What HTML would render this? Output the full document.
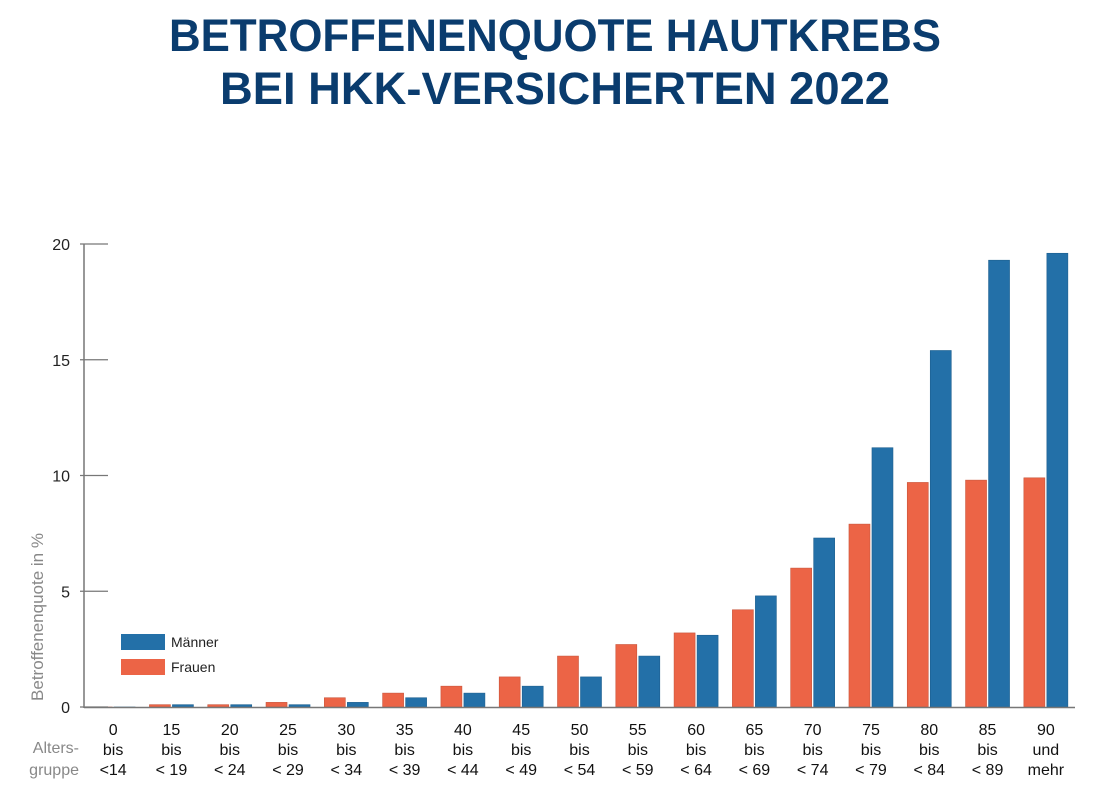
<!DOCTYPE html>
<html><head><meta charset="utf-8"><style>
body{margin:0;background:#fff;width:1110px;height:791px;overflow:hidden}
svg{display:block;font-family:"Liberation Sans",sans-serif}
</style></head><body>
<svg id="c" width="1110" height="791">
<text x="555" y="51" text-anchor="middle" font-size="45" font-weight="bold" fill="#0a3c6e" textLength="772" lengthAdjust="spacingAndGlyphs">BETROFFENENQUOTE HAUTKREBS</text>
<text x="555" y="104" text-anchor="middle" font-size="45" font-weight="bold" fill="#0a3c6e" textLength="670" lengthAdjust="spacingAndGlyphs">BEI HKK-VERSICHERTEN 2022</text>
<text transform="translate(43,617) rotate(-90)" text-anchor="middle" font-size="17" fill="#888">Betroffenenquote in %</text>
<text x="79" y="753" text-anchor="end" font-size="16" fill="#888">Alters-</text>
<text x="79" y="775" text-anchor="end" font-size="16" fill="#888">gruppe</text>
<g id="bars"></g>
<line x1="84" y1="244" x2="84" y2="708" stroke="#777" stroke-width="1.5"/>
<line x1="84" y1="707.5" x2="1075" y2="707.5" stroke="#777" stroke-width="1.5"/>
<rect x="121" y="634" width="44" height="16" fill="#2370a8"/>
<text x="171" y="647" font-size="14" fill="#222">Männer</text>
<rect x="121" y="659" width="44" height="16" fill="#ec6446"/>
<text x="171" y="672" font-size="14" fill="#222">Frauen</text>
</svg>
<script>
const line1=["0","15","20","25","30","35","40","45","50","55","60","65","70","75","80","85","90"];
const line2=["bis","bis","bis","bis","bis","bis","bis","bis","bis","bis","bis","bis","bis","bis","bis","bis","und"];
const line3=["<14","< 19","< 24","< 29","< 34","< 39","< 44","< 49","< 54","< 59","< 64","< 69","< 74","< 79","< 84","< 89","mehr"];
const frauen=[0,0.1,0.1,0.2,0.4,0.6,0.9,1.3,2.2,2.7,3.2,4.2,6.0,7.9,9.7,9.8,9.9];
const maenner=[0,0.1,0.1,0.1,0.2,0.4,0.6,0.9,1.3,2.2,3.1,4.8,7.3,11.2,15.4,19.3,19.6];
const yTicks=[0,5,10,15,20];
const NS="http://www.w3.org/2000/svg";
const svg=document.getElementById('c'),g=document.getElementById('bars');
const x0=84,x1=1075,y0=707,yTop=244,ymax=20;
const bw=(x1-x0)/line1.length;
const y=v=>y0-(v/ymax)*(y0-yTop);
const xc=i=>x0+bw*(i+0.5);
function mk(tag,attrs,parent){const e=document.createElementNS(NS,tag);for(const k in attrs)e.setAttribute(k,attrs[k]);(parent||svg).appendChild(e);return e;}
yTicks.forEach(t=>{
  const l=mk('line',{x1:x0-4,x2:x0+24,y1:y(t),y2:y(t),stroke:'#777','stroke-width':1.2});
  
  
  const tx=mk('text',{x:70,y:y(t)+6,'text-anchor':'end','font-size':16,fill:'#222'});
  tx.textContent=t;
  
  
});
line1.forEach((c,i)=>{
  const w=21;
  const hf=Math.max(y0-y(frauen[i]),0.01);
  const r=mk('rect',{x:xc(i)-w-1,y:y0-hf,width:w,height:hf,fill:'#ec6446',stroke:'#c9553b','stroke-width':0.6},g);
  
  
  const hm=Math.max(y0-y(maenner[i]),0.01);
  const b=mk('rect',{x:xc(i)+1,y:y0-hm,width:w,height:hm,fill:'#2370a8',stroke:'#1d5f8f','stroke-width':0.6},g);
  
  
  [line1[i],line2[i],line3[i]].forEach((s,k)=>{
    const t=mk('text',{x:xc(i),y:735+k*20,'text-anchor':'middle','font-size':16,fill:'#111'});
    t.textContent=s;
    
    
  });
});
</script>
</body></html>
